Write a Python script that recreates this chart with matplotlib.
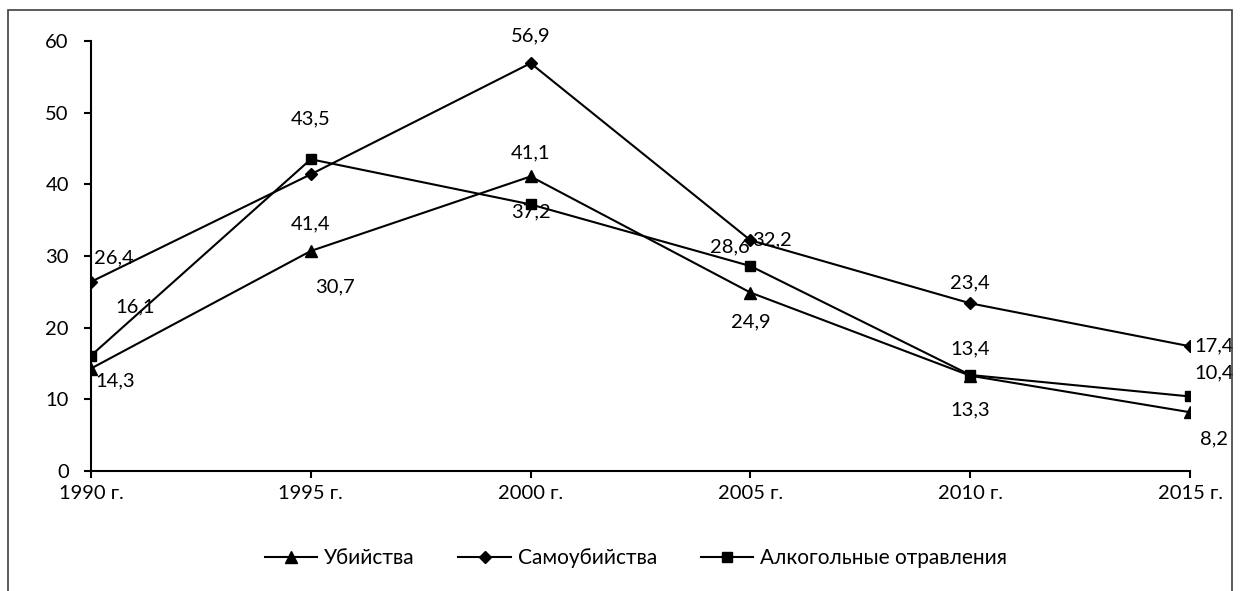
import matplotlib.pyplot as plt
from matplotlib.patches import Rectangle

years = ["1990 г.", "1995 г.", "2000 г.", "2005 г.", "2010 г.", "2015 г."]
murders = [14.3, 30.7, 41.1, 24.9, 13.3, 8.2]
suicides = [26.4, 41.4, 56.9, 32.2, 23.4, 17.4]
alcohol = [16.1, 43.5, 37.2, 28.6, 13.4, 10.4]

# label offsets in pixels (dx, dy) for each point
murders_off = [(24, -12), (24, -36), (0, 24), (0, -29), (0, -34), (24, -27)]
suicides_off = [(23, 24), (0, -50), (0, 27), (22, 0), (0, 20), (24, 0)]
alcohol_off = [(44, 49), (0, 40), (0, -7), (-21, 19), (0, 26), (24, 24)]

plt.rcParams['font.family'] = ['Lato', 'DejaVu Sans']
FS = 14.5

W, H = 1243, 591
fig = plt.figure(figsize=(W / 100, H / 100), dpi=100)
ax = fig.add_axes([91 / W, 1 - 471 / H, (1190 - 91) / W, (471 - 41) / H])

fig.patches.append(Rectangle((8 / W, -0.1), (1232 - 8) / W, 1.1 - 10 / H,
                             transform=fig.transFigure, fill=False,
                             edgecolor='#404040', lw=1.2))

x = list(range(len(years)))
series = [
    ("Убийства", murders, '^', 8, murders_off),
    ("Самоубийства", suicides, 'D', 6, suicides_off),
    ("Алкогольные отравления", alcohol, 's', 6.5, alcohol_off),
]
for name, vals, mk, ms, offs in series:
    ax.plot(x, vals, color='black', lw=1.5, marker=mk, markersize=ms, label=name)
    for xi, v, (dx, dy) in zip(x, vals, offs):
        ax.annotate(f"{v:.1f}".replace('.', ','), (xi, v), xytext=(dx, dy),
                    textcoords='offset pixels', ha='center', va='center',
                    fontsize=FS)

ax.set_xlim(0, 5)
ax.set_ylim(0, 60)
ax.set_xticks(x)
ax.set_xticklabels(years, fontsize=FS)
ax.set_yticks(range(0, 61, 10))
ax.tick_params(axis='y', labelsize=FS, length=5, width=1.5, direction='out', pad=11)
ax.tick_params(axis='x', length=5, width=1.5, direction='out', pad=5)
for s in ['top', 'right']:
    ax.spines[s].set_visible(False)
for s in ['left', 'bottom']:
    ax.spines[s].set_linewidth(1.5)

fig.legend(loc='center', bbox_to_anchor=(636 / W, 1 - 558 / H), ncol=3, frameon=False,
           fontsize=15, handlelength=2.5, columnspacing=2.1, handletextpad=0.35)

fig.savefig("out.png", dpi=100)
